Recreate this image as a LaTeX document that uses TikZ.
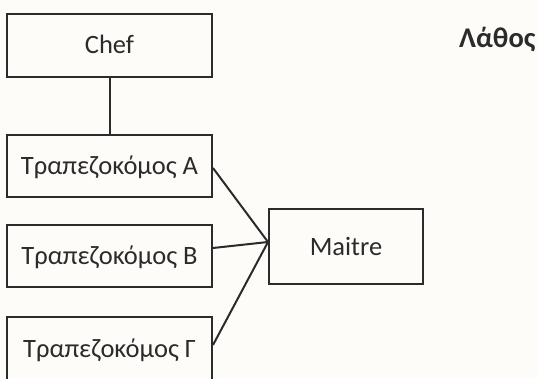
\documentclass[tikz,border=0pt]{standalone}
\usepackage{fontspec}
\setmainfont{Carlito}
\definecolor{ink}{HTML}{2B2B2B}
\definecolor{paper}{HTML}{FDFCF8}

\begin{document}
\begin{tikzpicture}[x=1pt,y=1pt,
    box/.style={draw=ink, line width=2pt, inner sep=0pt, minimum width=205pt, minimum height=62pt,
        text=ink, text height=17pt, text depth=0pt, font=\fontsize{26.5}{30}\selectfont},
    link/.style={draw=ink, line width=2pt}]
    \fill[paper](0,0)rectangle(538,378);
    \useasboundingbox(0,0)rectangle(538,378);

    \node[box, minimum height=63pt](chef)at(109.5,332.5){Chef};
    \node[box](tra)at(109.5,212){Τραπεζοκόμος Α};
    \node[box](trb)at(109.5,122){Τραπεζοκόμος Β};
    \node[box, minimum height=63pt](trg)at(109.5,29.5){Τραπεζοκόμος Γ};
    \node[box, minimum width=154pt, minimum height=75pt](maitre)at(346,131.5){Maitre};
    \node[anchor=base west, inner sep=0pt, text=ink, font=\fontsize{28.5}{32}\selectfont\bfseries](wrong)at(459,330){Λάθος};

    \draw[link](chef)--(tra);
    \draw[link]([yshift=-2pt]tra.east)--([yshift=4.5pt]maitre.west);
    \draw[link]([yshift=8pt]trb.east)--([yshift=4.5pt]maitre.west);
    \draw[link]([yshift=3.5pt]trg.east)--([yshift=4.5pt]maitre.west);
\end{tikzpicture}
\end{document}
